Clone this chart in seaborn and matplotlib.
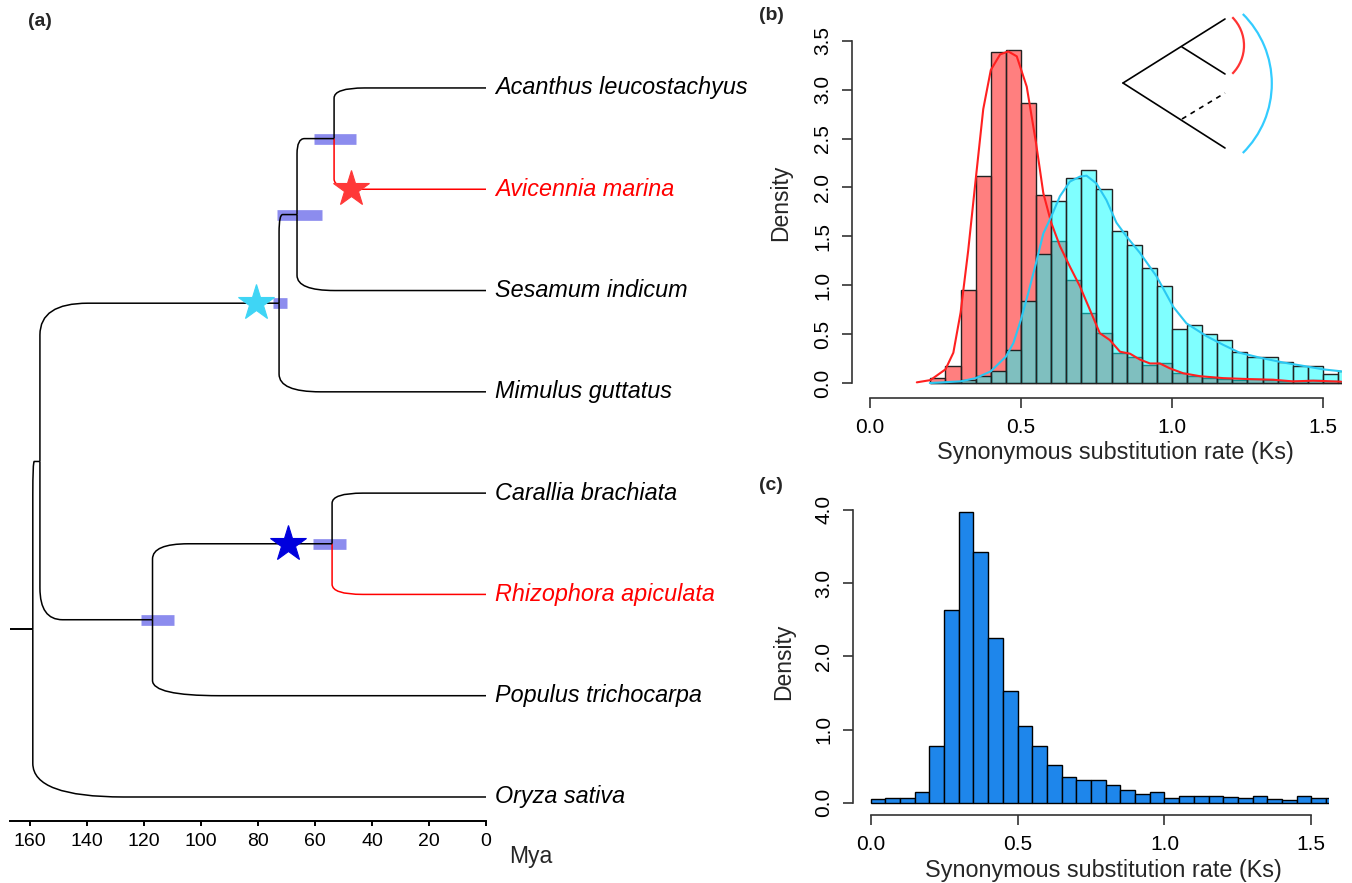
import numpy as np
import pandas as pd
import matplotlib
matplotlib.use("Agg")
import matplotlib.pyplot as plt
import seaborn as sns
from matplotlib.path import Path
from matplotlib.patches import PathPatch, Arc

# ---------------- data: panel (a) dated phylogeny ----------------
tip_names = ["Acanthus leucostachyus", "Avicennia marina", "Sesamum indicum",
             "Mimulus guttatus", "Carallia brachiata", "Rhizophora apiculata",
             "Populus trichocarpa", "Oryza sativa"]
tip_colors = ["black", "red", "black", "black", "black", "red", "black", "black"]

node_names = ["n1", "n2", "n3", "n4", "n5", "n6", "root"]
node_children = [["Acanthus leucostachyus", "Avicennia marina"],
                 ["n1", "Sesamum indicum"],
                 ["n2", "Mimulus guttatus"],
                 ["Carallia brachiata", "Rhizophora apiculata"],
                 ["n4", "Populus trichocarpa"],
                 ["n3", "n5"],
                 ["n6", "Oryza sativa"]]
node_ages = [53.3, 66.3, 72.6, 54.0, 117.0, 156.5, 159.0]   # Mya
root_stem_age = 167.0

hpd_nodes = ["n1", "n2", "n3", "n4", "n5"]
hpd_low = [45.6, 57.5, 69.8, 49.1, 109.5]
hpd_high = [60.4, 73.3, 74.7, 60.7, 121.0]

star_on = ["n3", "Avicennia marina", "n4"]
star_ages = [80.7, 47.4, 69.5]
star_colors = ["#3FD5F5", "#FF3838", "#0000DD"]

mya_ticks = [160, 140, 120, 100, 80, 60, 40, 20, 0]

# ---------------- data: panel (b) Ks histograms ----------------
b_bin_start = 0.20
b_binwidth = 0.05
red_hist = [0.051, 0.177, 0.948, 2.117, 3.388, 3.408, 2.860, 1.919, 1.455, 1.050,
            0.716, 0.511, 0.307, 0.266, 0.181, 0.201, 0.102, 0.068, 0.051, 0.044,
            0.034, 0.044, 0.034, 0.017, 0.017, 0.027, 0.017, 0.010]
cyan_hist = [0.005, 0.007, 0.027, 0.068, 0.126, 0.334, 0.835, 1.319, 1.857, 2.093,
             2.174, 1.987, 1.551, 1.408, 1.172, 0.988, 0.552, 0.593, 0.501, 0.436,
             0.320, 0.262, 0.262, 0.218, 0.170, 0.170, 0.092, 0.119]

red_kde_x = [0.155, 0.20, 0.25, 0.276, 0.30, 0.325, 0.35, 0.375, 0.40, 0.431, 0.458,
             0.486, 0.519, 0.55, 0.574, 0.60, 0.629, 0.662, 0.695, 0.728, 0.761,
             0.794, 0.828, 0.861, 0.894, 0.927, 0.96, 0.993, 1.037, 1.092, 1.17,
             1.258, 1.335, 1.40, 1.467, 1.56]
red_kde_y = [0.007, 0.03, 0.14, 0.31, 0.72, 1.35, 2.08, 2.80, 3.20, 3.36, 3.39,
             3.34, 3.03, 2.45, 1.94, 1.64, 1.40, 1.19, 0.99, 0.75, 0.51,
             0.44, 0.32, 0.30, 0.24, 0.20, 0.20, 0.15, 0.10, 0.07, 0.05,
             0.04, 0.034, 0.017, 0.024, 0.014]
cyan_kde_x = [0.198, 0.30, 0.35, 0.40, 0.45, 0.475, 0.50, 0.524, 0.55, 0.574, 0.60,
              0.629, 0.662, 0.695, 0.717, 0.75, 0.783, 0.816, 0.849, 0.894, 0.949,
              1.004, 1.048, 1.114, 1.17, 1.224, 1.29, 1.368, 1.445, 1.50, 1.56]
cyan_kde_y = [0.0, 0.017, 0.05, 0.12, 0.27, 0.41, 0.65, 0.92, 1.23, 1.53, 1.70,
              1.91, 2.06, 2.11, 2.12, 2.04, 1.87, 1.64, 1.50, 1.33, 1.09,
              0.78, 0.61, 0.48, 0.39, 0.31, 0.26, 0.21, 0.17, 0.14, 0.12]

# ---------------- data: panel (c) Ks histogram ----------------
c_bin_start = 0.0
c_binwidth = 0.05
blue_hist = [0.046, 0.059, 0.059, 0.146, 0.770, 2.637, 3.971, 3.424, 2.254, 1.526,
             1.052, 0.770, 0.515, 0.346, 0.305, 0.305, 0.246, 0.168, 0.114, 0.141,
             0.068, 0.087, 0.096, 0.087, 0.073, 0.059, 0.087, 0.046, 0.032, 0.087,
             0.059, 0.059]

ks_ticks = [0.0, 0.5, 1.0, 1.5]
ks_ticklabels = ["0.0", "0.5", "1.0", "1.5"]
b_yticks = [0.0, 0.5, 1.0, 1.5, 2.0, 2.5, 3.0, 3.5]
c_yticks = [0.0, 1.0, 2.0, 3.0, 4.0]

# ---------------- figure ----------------
sns.set_theme(style="white")
plt.rcParams['font.family'] = ['Liberation Sans', 'DejaVu Sans']
W, H = 1352, 883
fig = plt.figure(figsize=(W / 100, H / 100), dpi=100)
fig.patch.set_facecolor("white")


def ax_px(l, t, r, b, **kw):
    return fig.add_axes([l / W, 1 - b / H, (r - l) / W, (b - t) / H], **kw)


# ================= panel (a) =================
axA = ax_px(10, 60, 486, 821)
axA.set_facecolor("none")
ypos = {n: float(i) for i, n in enumerate(tip_names)}
xpos = {n: 0.0 for n in tip_names}
for n, ch, age in zip(node_names, node_children, node_ages):
    ypos[n] = float(np.mean([ypos[c] for c in ch]))
    xpos[n] = age
col_of = dict(zip(tip_names, tip_colors))

for n, ch in zip(node_names, node_children):
    xp, yp = xpos[n], ypos[n]
    for c in ch:
        xc, yc = xpos[c], ypos[c]
        h = 0.2 * (xp - xc)
        v = 0.2 * abs(yc - yp)
        s = np.sign(yc - yp)
        verts = [(xp, yp), (xp, yc - s * v), (xp, yc), (xp - h, yc), (xc, yc)]
        codes = [Path.MOVETO, Path.LINETO, Path.CURVE3, Path.CURVE3, Path.LINETO]
        axA.add_patch(PathPatch(Path(verts, codes), fill=False,
                                ec=col_of.get(c, "black"), lw=1.1, zorder=3))
axA.plot([root_stem_age, xpos["root"]], [ypos["root"]] * 2, color="black",
         lw=1.4, zorder=3, solid_capstyle="butt")

for n, lo, hi in zip(hpd_nodes, hpd_low, hpd_high):
    axA.plot([lo, hi], [ypos[n]] * 2, color="#8C8CEE", lw=7.7,
             solid_capstyle="butt", zorder=2)

for n, a, c in zip(star_on, star_ages, star_colors):
    axA.plot([a], [ypos[n]], ls="none", marker="*", ms=27, color=c, mec=c,
             mew=0.8, zorder=5)

for n, c in zip(tip_names, tip_colors):
    axA.annotate(n, (0, ypos[n]), xytext=(6.5, 0), textcoords="offset points",
                 ha="left", va="center", fontsize=16.8, style="italic", color=c,
                 annotation_clip=False)

axA.set_xlim(root_stem_age, 0)
axA.set_ylim(7.237, -0.276)
for sp in ["top", "right", "left"]:
    axA.spines[sp].set_visible(False)
axA.spines["bottom"].set_linewidth(1.4)
axA.spines["bottom"].set_color("black")
axA.set_xticks(mya_ticks)
axA.set_xticklabels([str(t) for t in mya_ticks])
axA.set_yticks([])
axA.tick_params(axis="x", bottom=True, direction="out", length=3.6, width=1.4,
                labelsize=14, pad=5, colors="black")
axA.grid(False)
fig.text(531 / W, 1 - 856 / H, "Mya", ha="center", va="center", fontsize=16.5)

# ================= panel (b) =================
axB = ax_px(852, 27, 1342, 398)
nb = len(red_hist)
b_edges = [round(b_bin_start + b_binwidth * i, 3) for i in range(nb + 1)]
b_df = pd.DataFrame({"ks": [e + b_binwidth / 2 for e in b_edges[:-1]],
                     "red": red_hist, "cyan": cyan_hist})
sns.histplot(data=b_df, x="ks", weights="red", bins=b_edges, stat="count",
             color="#FF0000", alpha=0.5, edgecolor="#222222", linewidth=1.0, ax=axB)
sns.histplot(data=b_df, x="ks", weights="cyan", bins=b_edges, stat="count",
             color="#00FFFF", alpha=0.5, edgecolor="#222222", linewidth=1.0, ax=axB)
sns.lineplot(x=red_kde_x, y=red_kde_y, color="#FF2020", lw=1.5, ax=axB)
sns.lineplot(x=cyan_kde_x, y=cyan_kde_y, color="#2BC8F2", lw=1.5, ax=axB)
axB.set_xlim(-0.0596, 1.563)
axB.set_ylim(-0.153, 3.64)

# ================= panel (c) =================
axC = ax_px(853, 498, 1329, 815)
nc = len(blue_hist)
c_edges = [round(c_bin_start + c_binwidth * i, 3) for i in range(nc + 1)]
c_df = pd.DataFrame({"ks": [e + c_binwidth / 2 for e in c_edges[:-1]],
                     "blue": blue_hist})
sns.histplot(data=c_df, x="ks", weights="blue", bins=c_edges, stat="count",
             color="#1E86EB", alpha=1.0, edgecolor="black", linewidth=1.0, ax=axC)
axC.set_xlim(-0.060, 1.56)
axC.set_ylim(-0.168, 4.163)

for ax, yt, ytop in [(axB, b_yticks, 3.5), (axC, c_yticks, 4.0)]:
    for sp in ["top", "right"]:
        ax.spines[sp].set_visible(False)
    for sp in ["left", "bottom"]:
        ax.spines[sp].set_color("#333333")
        ax.spines[sp].set_linewidth(1.2)
    ax.spines["left"].set_bounds(0, ytop)
    ax.spines["bottom"].set_bounds(0, 1.5)
    ax.set_xticks(ks_ticks)
    ax.set_xticklabels(ks_ticklabels)
    ax.set_yticks(yt)
    ax.set_yticklabels([f"{v:.1f}" for v in yt])
    ax.tick_params(axis="both", left=True, bottom=True, direction="out",
                   length=7.2, width=1.2, color="#333333", labelcolor="black",
                   labelsize=15, pad=7)
    for lab in ax.get_yticklabels():
        lab.set_rotation(90)
        lab.set_va("center")
    ax.set_xlabel("")
    ax.set_ylabel("")
    ax.grid(False)
    ax.set_facecolor("none")

fig.text(1115 / W, 1 - 453 / H, "Synonymous substitution rate (Ks)",
         ha="center", va="center", fontsize=16.8)
fig.text(1103 / W, 1 - 870 / H, "Synonymous substitution rate (Ks)",
         ha="center", va="center", fontsize=16.8)
fig.text(781 / W, 1 - 203 / H, "Density", ha="center", va="center",
         rotation=90, fontsize=16.5)
fig.text(784 / W, 1 - 662 / H, "Density", ha="center", va="center",
         rotation=90, fontsize=16.5)

fig.text(40 / W, 1 - 22 / H, "(a)", ha="center", va="center", fontsize=14,
         fontweight="bold")
fig.text(771 / W, 1 - 16 / H, "(b)", ha="center", va="center", fontsize=14,
         fontweight="bold")
fig.text(771 / W, 1 - 485 / H, "(c)", ha="center", va="center", fontsize=14,
         fontweight="bold")

# ================= inset schematic (pixel coordinates) =================
ov = fig.add_axes([0, 0, 1, 1], zorder=10)
ov.set_xlim(0, W)
ov.set_ylim(H, 0)
ov.axis("off")
ov.set_facecolor("none")
for (x0, y0, x1, y1) in [(1123, 83, 1225, 19), (1182, 47, 1225, 74),
                         (1123, 83, 1225, 148)]:
    ov.plot([x0, x1], [y0, y1], color="black", lw=1.2)
ov.plot([1182, 1225], [119, 93], color="black", lw=1.2, ls=(0, (3, 3)))
ov.add_patch(Arc((1204, 45.5), 80, 80, theta1=-45, theta2=45,
                 color="#FF3333", lw=1.6))
ov.add_patch(Arc((1174, 83.5), 195.6, 195.6, theta1=-45.3, theta2=45.3,
                 color="#33CCFF", lw=1.6))

fig.savefig("out.png", dpi=100, facecolor="white")
